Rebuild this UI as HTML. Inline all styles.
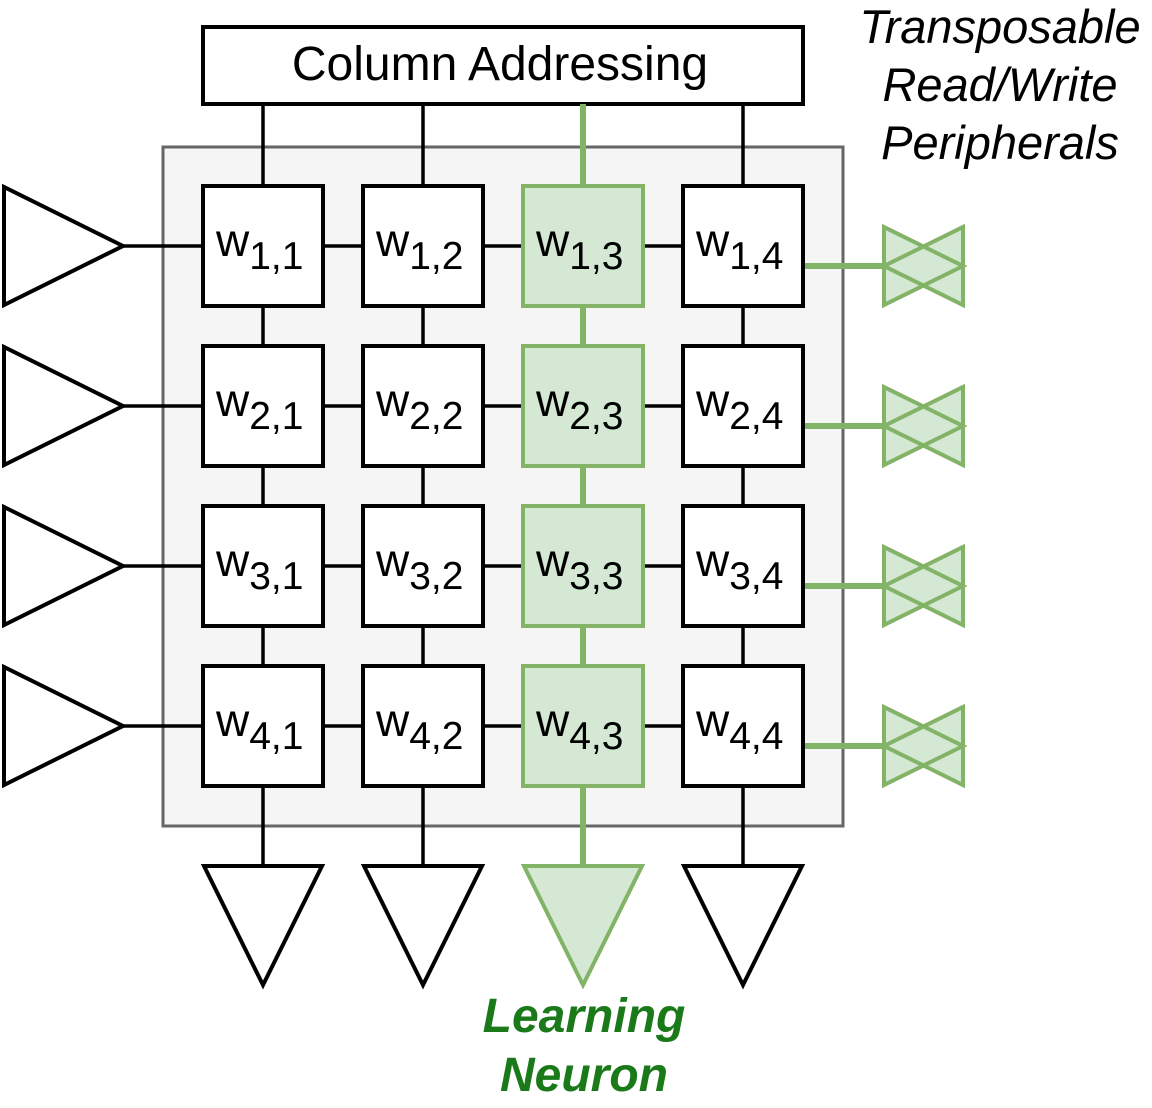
<!DOCTYPE html>
<html><head><meta charset="utf-8"><style>
html,body{margin:0;padding:0;background:#fff;}
svg{display:block;}
text{font-family:"Liberation Sans",Arial,sans-serif;}
</style></head><body>
<svg width="1152" height="1108" viewBox="0 0 1152 1108" xmlns="http://www.w3.org/2000/svg">
<rect x="163" y="147" width="680" height="679" fill="#f5f5f5" stroke="#666" stroke-width="3"/>
<rect x="203" y="27" width="600" height="77" fill="#fff" stroke="#000" stroke-width="4"/>
<text x="500" y="80" font-size="48" text-anchor="middle">Column Addressing</text>
<g stroke="#000" stroke-width="3.5">
<line x1="263" y1="104" x2="263" y2="866"/>
<line x1="423" y1="104" x2="423" y2="866"/>
<line x1="743" y1="104" x2="743" y2="866"/>
<line x1="123" y1="246" x2="683" y2="246"/>
<line x1="123" y1="406" x2="683" y2="406"/>
<line x1="123" y1="566" x2="683" y2="566"/>
<line x1="123" y1="726" x2="683" y2="726"/>
</g>
<g stroke="#82b366" stroke-width="6">
<line x1="583" y1="104" x2="583" y2="866"/>
<line x1="803" y1="266" x2="883" y2="266"/>
<line x1="803" y1="426" x2="883" y2="426"/>
<line x1="803" y1="586" x2="883" y2="586"/>
<line x1="803" y1="746" x2="883" y2="746"/>
</g>
<g fill="#fff" stroke="#000" stroke-width="4">
<polygon points="4,187 4,305 123,246"/>
<polygon points="4,347 4,465 123,406"/>
<polygon points="4,507 4,625 123,566"/>
<polygon points="4,667 4,785 123,726"/>
<polygon points="204,866 322,866 263,985"/>
<polygon points="364,866 482,866 423,985"/>
<polygon points="684,866 802,866 743,985"/>
</g>
<polygon points="524,866 642,866 583,985" fill="#d5e8d4" stroke="#82b366" stroke-width="4"/>
<g fill="#d5e8d4" stroke="none">
<polygon points="884,227 884,305 963,266"/><polygon points="963,227 963,305 884,266"/>
<polygon points="884,387 884,465 963,426"/><polygon points="963,387 963,465 884,426"/>
<polygon points="884,547 884,625 963,586"/><polygon points="963,547 963,625 884,586"/>
<polygon points="884,707 884,785 963,746"/><polygon points="963,707 963,785 884,746"/>
</g>
<g fill="none" stroke="#82b366" stroke-width="4">
<polygon points="884,227 884,305 963,266"/><polygon points="963,227 963,305 884,266"/>
<polygon points="884,387 884,465 963,426"/><polygon points="963,387 963,465 884,426"/>
<polygon points="884,547 884,625 963,586"/><polygon points="963,547 963,625 884,586"/>
<polygon points="884,707 884,785 963,746"/><polygon points="963,707 963,785 884,746"/>
</g>
<g stroke-width="4">
<rect x="203" y="186" width="120" height="120" fill="#fff" stroke="#000"/>
<rect x="363" y="186" width="120" height="120" fill="#fff" stroke="#000"/>
<rect x="523" y="186" width="120" height="120" fill="#d5e8d4" stroke="#82b366"/>
<rect x="683" y="186" width="120" height="120" fill="#fff" stroke="#000"/>
<rect x="203" y="346" width="120" height="120" fill="#fff" stroke="#000"/>
<rect x="363" y="346" width="120" height="120" fill="#fff" stroke="#000"/>
<rect x="523" y="346" width="120" height="120" fill="#d5e8d4" stroke="#82b366"/>
<rect x="683" y="346" width="120" height="120" fill="#fff" stroke="#000"/>
<rect x="203" y="506" width="120" height="120" fill="#fff" stroke="#000"/>
<rect x="363" y="506" width="120" height="120" fill="#fff" stroke="#000"/>
<rect x="523" y="506" width="120" height="120" fill="#d5e8d4" stroke="#82b366"/>
<rect x="683" y="506" width="120" height="120" fill="#fff" stroke="#000"/>
<rect x="203" y="666" width="120" height="120" fill="#fff" stroke="#000"/>
<rect x="363" y="666" width="120" height="120" fill="#fff" stroke="#000"/>
<rect x="523" y="666" width="120" height="120" fill="#d5e8d4" stroke="#82b366"/>
<rect x="683" y="666" width="120" height="120" fill="#fff" stroke="#000"/>
</g>
<g font-size="46">
<text x="216" y="256">w<tspan font-size="39" dy="13">1,1</tspan></text>
<text x="376" y="256">w<tspan font-size="39" dy="13">1,2</tspan></text>
<text x="536" y="256">w<tspan font-size="39" dy="13">1,3</tspan></text>
<text x="696" y="256">w<tspan font-size="39" dy="13">1,4</tspan></text>
<text x="216" y="416">w<tspan font-size="39" dy="13">2,1</tspan></text>
<text x="376" y="416">w<tspan font-size="39" dy="13">2,2</tspan></text>
<text x="536" y="416">w<tspan font-size="39" dy="13">2,3</tspan></text>
<text x="696" y="416">w<tspan font-size="39" dy="13">2,4</tspan></text>
<text x="216" y="576">w<tspan font-size="39" dy="13">3,1</tspan></text>
<text x="376" y="576">w<tspan font-size="39" dy="13">3,2</tspan></text>
<text x="536" y="576">w<tspan font-size="39" dy="13">3,3</tspan></text>
<text x="696" y="576">w<tspan font-size="39" dy="13">3,4</tspan></text>
<text x="216" y="736">w<tspan font-size="39" dy="13">4,1</tspan></text>
<text x="376" y="736">w<tspan font-size="39" dy="13">4,2</tspan></text>
<text x="536" y="736">w<tspan font-size="39" dy="13">4,3</tspan></text>
<text x="696" y="736">w<tspan font-size="39" dy="13">4,4</tspan></text>
</g>
<g font-size="47" font-style="italic" text-anchor="middle">
<text x="1000" y="43">Transposable</text>
<text x="1000" y="101">Read/Write</text>
<text x="1000" y="159">Peripherals</text>
</g>
<g font-size="48" font-style="italic" font-weight="bold" text-anchor="middle" fill="#1a7a1a">
<text x="584" y="1032">Learning</text>
<text x="584" y="1091">Neuron</text>
</g>
</svg>
</body></html>
